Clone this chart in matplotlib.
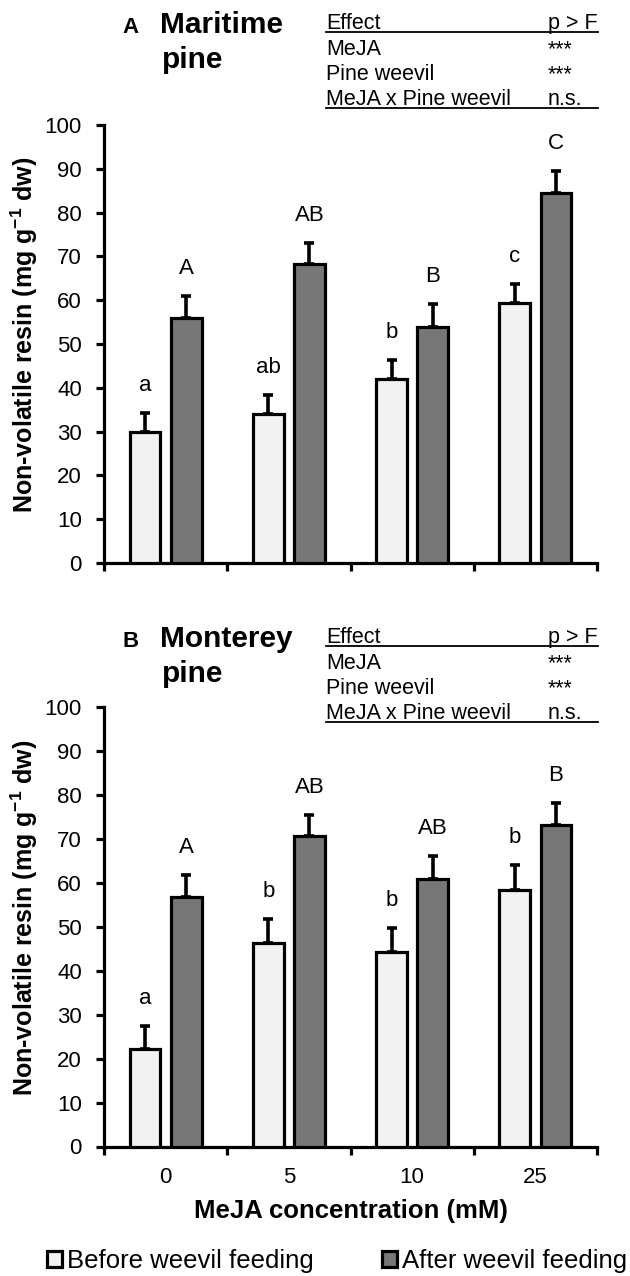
import matplotlib
matplotlib.use("Agg")
import matplotlib.pyplot as plt
from matplotlib.patches import Patch
from matplotlib.lines import Line2D
from matplotlib.ticker import FixedLocator, NullFormatter
import numpy as np

plt.rcParams['font.family'] = ['Liberation Sans', 'DejaVu Sans']
plt.rcParams['mathtext.fontset'] = 'custom'
plt.rcParams['mathtext.rm'] = 'Liberation Sans'
plt.rcParams['mathtext.bf'] = 'Liberation Sans:bold'
plt.rcParams['mathtext.default'] = 'bf'

# ---- data ----
concentrations = ["0", "5", "10", "25"]
series_names = ["Before weevil feeding", "After weevil feeding"]

maritime_before = [30.0, 34.0, 41.9, 59.3]
maritime_before_se = [4.2, 4.4, 4.4, 4.4]
maritime_after = [55.9, 68.2, 53.9, 84.5]
maritime_after_se = [5.1, 4.8, 5.2, 5.0]
maritime_before_letters = ["a", "ab", "b", "c"]
maritime_after_letters = ["A", "AB", "B", "C"]

monterey_before = [22.1, 46.2, 44.3, 58.4]
monterey_before_se = [5.4, 5.5, 5.4, 5.6]
monterey_after = [56.8, 70.6, 60.8, 73.2]
monterey_after_se = [5.0, 4.9, 5.2, 5.0]
monterey_before_letters = ["a", "b", "b", "b"]
monterey_after_letters = ["A", "AB", "AB", "B"]

effects = ["MeJA", "Pine weevil", "MeJA x Pine weevil"]
maritime_p = ["***", "***", "n.s."]
monterey_p = ["***", "***", "n.s."]

# ---- style ----
W, H = 630, 1276
BEFORE_COLOR = "#f2f2f2"
AFTER_COLOR = "#777777"
EDGE_LW = 2.3
TICK_FS = 16
TABLE_FS = 15.5
BAR_W = 0.25
OFFSET = 0.167

fig = plt.figure(figsize=(W / 100, H / 100), dpi=100)


def fx(px):
    return px / W


def fy(py):
    return 1 - py / H


def draw_panel(rect, before, before_se, after, after_se,
               before_letters, after_letters, show_xlabels):
    left, top, right, bottom = rect
    ax = fig.add_axes([fx(left), fy(bottom), fx(right) - fx(left),
                       fy(top) - fy(bottom)])
    x = np.arange(len(concentrations))
    for xs, vals, errs, color, letters in (
            (x - OFFSET, before, before_se, BEFORE_COLOR, before_letters),
            (x + OFFSET, after, after_se, AFTER_COLOR, after_letters)):
        ax.bar(xs, vals, width=BAR_W, color=color, edgecolor="black",
               linewidth=EDGE_LW, zorder=3)
        ax.errorbar(xs, vals, yerr=[np.zeros(len(vals)), errs], fmt="none",
                    ecolor="black", elinewidth=2.6, capsize=3.8,
                    capthick=2.6, zorder=2)
        for xi, v, e, lab in zip(xs, vals, errs, letters):
            ax.text(xi, v + e + 5, lab, ha="center", va="baseline",
                    fontsize=TICK_FS)

    ax.set_xlim(-0.5, len(concentrations) - 0.5)
    ax.set_ylim(0, 100)
    ax.set_yticks(np.arange(0, 101, 10))
    ax.tick_params(axis="y", direction="out", length=6, width=EDGE_LW,
                   pad=10, labelsize=TICK_FS)
    ax.set_xticks(x)
    ax.xaxis.set_minor_locator(FixedLocator(np.arange(-0.5, len(concentrations), 1.0)))
    ax.xaxis.set_minor_formatter(NullFormatter())
    ax.tick_params(axis="x", which="minor", direction="out", length=6,
                   width=EDGE_LW)
    ax.tick_params(axis="x", which="major", length=0, pad=15,
                   labelsize=TICK_FS)
    if show_xlabels:
        ax.set_xticklabels(concentrations)
        ax.set_xlabel("MeJA concentration (mM)", fontsize=18.5,
                      fontweight="bold", labelpad=8)
    else:
        ax.set_xticklabels([])
    for side in ("top", "right"):
        ax.spines[side].set_visible(False)
    for side in ("left", "bottom"):
        ax.spines[side].set_linewidth(EDGE_LW)
    ax.set_ylabel("Non-volatile resin (mg g$^{-1}$ dw)", fontsize=18,
                  fontweight="bold", va="center")
    ax.yaxis.set_label_coords(-0.162, 0.52)
    return ax


def draw_header(dy, letter, name1, name2, pvals):
    fig.text(fx(122), fy(33 + dy), letter, fontsize=16, fontweight="bold",
             va="baseline", ha="left")
    fig.text(fx(160), fy(33 + dy), name1, fontsize=21.5, fontweight="bold",
             va="baseline", ha="left")
    fig.text(fx(162), fy(68 + dy), name2, fontsize=21.5, fontweight="bold",
             va="baseline", ha="left")
    tx0, tx1, tx_p = 326, 598, 548
    fig.text(fx(tx0), fy(29 + dy), "Effect", fontsize=TABLE_FS, va="baseline")
    fig.text(fx(tx_p), fy(29 + dy), "p > F", fontsize=TABLE_FS, va="baseline")
    fig.add_artist(Line2D([fx(tx0), fx(tx1)], [fy(32 + dy), fy(32 + dy)],
                          color="black", linewidth=1.3))
    for i, (eff, p) in enumerate(zip(effects, pvals)):
        yb = 55 + 25 * i + dy
        fig.text(fx(tx0), fy(yb), eff, fontsize=TABLE_FS, va="baseline")
        fig.text(fx(tx_p), fy(yb), p, fontsize=TABLE_FS, va="baseline")
    fig.add_artist(Line2D([fx(tx0), fx(tx1)], [fy(108 + dy), fy(108 + dy)],
                          color="black", linewidth=1.3))


draw_panel((104, 125, 597, 563), maritime_before, maritime_before_se,
           maritime_after, maritime_after_se,
           maritime_before_letters, maritime_after_letters, False)
draw_header(0, "A", "Maritime", "pine", maritime_p)

draw_panel((104, 707, 597, 1146.5), monterey_before, monterey_before_se,
           monterey_after, monterey_after_se,
           monterey_before_letters, monterey_after_letters, True)
draw_header(614, "B", "Monterey", "pine", monterey_p)

# legend
for (lx, name, color) in ((47, series_names[0], BEFORE_COLOR),
                          (382, series_names[1], AFTER_COLOR)):
    h = Patch(facecolor=color, edgecolor="black", linewidth=2.3)
    fig.legend(handles=[h], labels=[name], loc="center left",
               bbox_to_anchor=(fx(lx), fy(1261)), frameon=False,
               fontsize=18.5, borderpad=0, borderaxespad=0,
               handlelength=0.57, handleheight=0.57, handletextpad=0.22)

fig.savefig("out.png", dpi=100)
